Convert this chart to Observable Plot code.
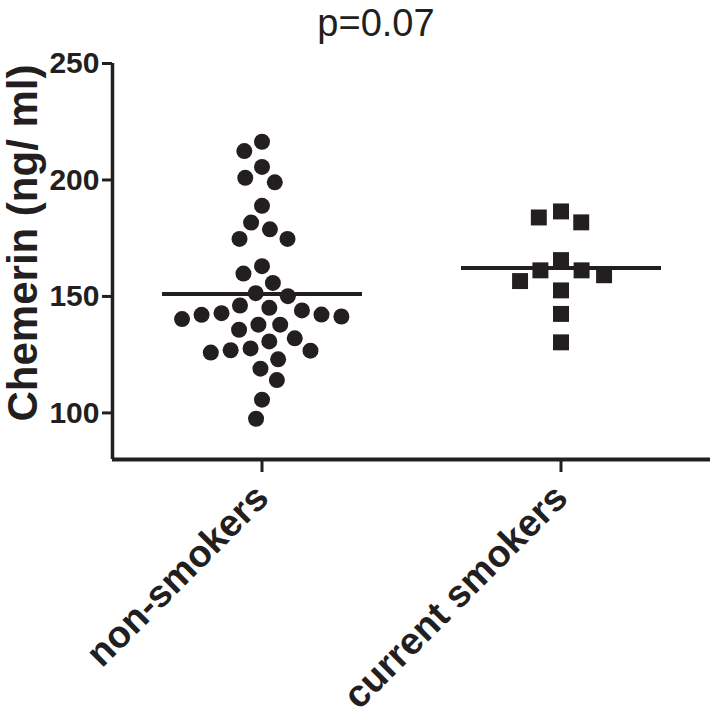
<!DOCTYPE html>
<html>
<head>
<meta charset="utf-8">
<script src="https://cdn.jsdelivr.net/npm/d3@7"></script>
<script src="https://cdn.jsdelivr.net/npm/@observablehq/plot@0.6"></script>
<style>
  html, body { margin: 0; padding: 0; background: #fff; }
  #wrap { position: relative; width: 718px; height: 722px; font-family: "Liberation Sans", Arial, Helvetica, sans-serif; color: #231f20; }
  #title { position: absolute; top: 4px; left: 376px; transform: translateX(-50%); font-size: 38px; line-height: 38px; white-space: nowrap; }
  #ylabel { position: absolute; left: 23px; top: 243px; transform: translate(-50%, -50%) rotate(-90deg); font-size: 42px; line-height: 42px; font-weight: bold; white-space: nowrap; }
  #chart svg { font-family: "Liberation Sans", Arial, Helvetica, sans-serif; color: #231f20; }
  #chart g[aria-label="y-axis tick label"] { font-size: 30px; font-weight: bold; }
  #chart g[aria-label="fx-axis tick label"] { font-size: 38px; font-weight: bold; }
  #chart g[aria-label*="axis"] path, #chart g[aria-label*="axis"] line { stroke-width: 3px; }
</style>
</head>
<body>
<div id="wrap">
  <div id="chart"></div>
  <div id="title">p=0.07</div>
  <div id="ylabel">Chemerin (ng/ ml)</div>
</div>
<script>
const groups = ["non-smokers", "current smokers"];
const nonSmokers = [216.4, 212.4, 205.6, 200.9, 199.0, 188.9, 181.7, 178.8, 174.7, 174.7,
  163.0, 159.8, 155.8, 151.4, 150.1, 146.1, 145.1, 144.0, 142.8, 142.2,
  142.1, 141.4, 140.3, 137.9, 137.9, 135.7, 132.0, 130.7, 127.7, 126.9,
  126.7, 125.9, 123.0, 119.0, 114.1, 105.7, 97.5];
const currentSmokers = [186.5, 183.9, 181.8, 165.6, 161.2, 161.2, 159.1, 156.6, 152.6, 142.5, 130.3];
const lineValues = [151.1, 162.2];
const yTicks = [100, 150, 200, 250];
const yDomain = [80, 250];

const ink = "#231f20";
const nonData = nonSmokers.map(v => ({group: groups[0], value: v}));
const curData = currentSmokers.map(v => ({group: groups[1], value: v}));
const lines = groups.map((g, i) => ({group: g, value: lineValues[i]}));

const chart = Plot.plot({
  width: 718,
  height: 722,
  marginLeft: 112,
  marginRight: 8,
  marginTop: 63,
  marginBottom: 263,
  x: {domain: [0, 1], axis: null},
  fx: {domain: groups, padding: 0, label: null, axis: "bottom", tickRotate: -45, tickSize: 13, tickPadding: 19},
  y: {domain: yDomain, ticks: yTicks, tickSize: 10, tickPadding: 3, label: null},
  marks: [
    // axis lines: bottom baseline in every facet, left line on the first facet only
    Plot.ruleY([yDomain[0]], {stroke: ink, strokeWidth: 4}),
    Plot.ruleX([groups[0]], {fx: d => d, x: () => 0, stroke: ink, strokeWidth: 3.5}),
    Plot.ruleY(lines, {y: "value", fx: "group", stroke: ink, strokeWidth: 4, insetLeft: 50, insetRight: 49}),
    Plot.dot(nonData, Plot.dodgeX({anchor: "middle", padding: 4}, {y: "value", fx: "group", r: 8, fill: ink, symbol: "circle"})),
    Plot.dot(curData, Plot.dodgeX({anchor: "middle", padding: 5}, {y: "value", fx: "group", r: 9, fill: ink, symbol: "square"}))
  ]
});
chart.querySelectorAll('[aria-label*="y-axis"] line, [aria-label*="y-axis"] path, [aria-label*="fx-axis"] line, [aria-label*="fx-axis"] path')
  .forEach(el => { el.style.strokeWidth = "3px"; });
document.getElementById("chart").appendChild(chart);
</script>
</body>
</html>
